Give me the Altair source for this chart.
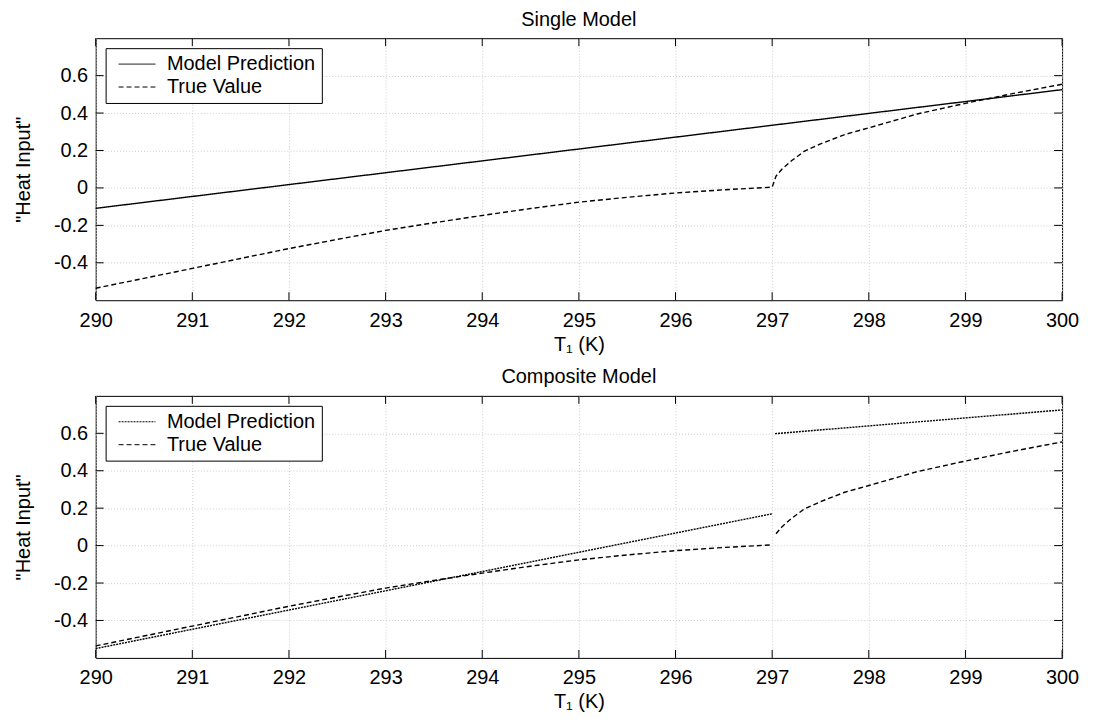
import altair as alt
import pandas as pd

FONT = "Liberation Sans"
W, H = 970, 263

x_ticks = [290, 291, 292, 293, 294, 295, 296, 297, 298, 299, 300]
y_ticks = [-0.4, -0.2, 0, 0.2, 0.4, 0.6]
series_names = ["Model Prediction", "True Value"]

# Single model prediction (straight line)
single_pred_T = [290, 300]
single_pred_v = [-0.109, 0.525]

# Composite model prediction (two pieces)
comp_pred1_T = [290, 297]
comp_pred1_v = [-0.550, 0.170]
comp_pred2_T = [297.03, 300]
comp_pred2_v = [0.598, 0.725]

# True value
true_before_T = [290, 290.5, 291, 291.5, 292, 292.5, 293, 293.5, 294, 294.5, 295, 295.5, 296, 296.5, 297]
true_before_v = [-0.536, -0.483, -0.430, -0.377, -0.324, -0.275, -0.227, -0.186, -0.147, -0.110, -0.076, -0.050, -0.027, -0.010, 0.004]
true_after_T = [297.04, 297.1, 297.2, 297.33, 297.5, 297.75, 298, 298.5, 299, 299.5, 300]
true_after_v = [0.063, 0.100, 0.145, 0.195, 0.235, 0.285, 0.321, 0.395, 0.452, 0.505, 0.554]


def rows(T, v, series, seg):
    return pd.DataFrame({"T": T, "v": v, "series": series, "seg": seg})


top_df = pd.concat([
    rows(single_pred_T, single_pred_v, "Model Prediction", "p"),
    rows(true_before_T + true_after_T, true_before_v + true_after_v, "True Value", "t"),
])
bot_df = pd.concat([
    rows(comp_pred1_T, comp_pred1_v, "Model Prediction", "p1"),
    rows(comp_pred2_T, comp_pred2_v, "Model Prediction", "p2"),
    rows(true_before_T, true_before_v, "True Value", "t1"),
    rows(true_after_T, true_after_v, "True Value", "t2"),
])

xt_df = pd.DataFrame({"T": x_ticks})
yt_df = pd.DataFrame({"v": y_ticks})


def X():
    return alt.X("T:Q", scale=alt.Scale(domain=[290, 300], nice=False, zero=False),
                 axis=alt.Axis(values=x_ticks, title="T₁ (K)", labelPadding=10, titlePadding=4,
                               format="d", labelFlush=False))


def Y():
    return alt.Y("v:Q", scale=alt.Scale(domain=[-0.6, 0.8], nice=False, zero=False),
                 axis=alt.Axis(values=y_ticks, title='"Heat Input"', labelPadding=8, titlePadding=20,
                               labelExpr="toString(datum.value)", labelFlush=False))


def panel(df, title, dash_range):
    lines = alt.Chart(df).mark_line(color="black", strokeWidth=1.4).encode(
        x=X(), y=Y(),
        strokeDash=alt.StrokeDash(
            "series:N",
            scale=alt.Scale(domain=series_names, range=dash_range),
            legend=alt.Legend(title=None, orient="top-left", offset=10, padding=6,
                              fillColor="white", strokeColor="black", cornerRadius=0,
                              labelFont=FONT, labelFontSize=20, labelColor="black",
                              symbolType="M-1.9474,0H1.9474", symbolSize=361,
                              symbolStrokeWidth=1, symbolStrokeColor="black",
                              symbolFillColor="transparent", symbolOffset=15.5,
                              labelOffset=20, rowPadding=3),
        ),
        detail="seg:N",
    )
    tick_b = alt.Chart(xt_df).mark_rule(color="black", strokeWidth=1).encode(
        x=X(), y=alt.value(H), y2=alt.value(H - 8))
    tick_t = alt.Chart(xt_df).mark_rule(color="black", strokeWidth=1).encode(
        x=X(), y=alt.value(0), y2=alt.value(8))
    tick_l = alt.Chart(yt_df).mark_rule(color="black", strokeWidth=1).encode(
        y=Y(), x=alt.value(0), x2=alt.value(8))
    tick_r = alt.Chart(yt_df).mark_rule(color="black", strokeWidth=1).encode(
        y=Y(), x=alt.value(W - 8), x2=alt.value(W))
    return alt.layer(lines, tick_b, tick_t, tick_l, tick_r).properties(
        width=W, height=H, title=alt.TitleParams(title, offset=8))


top = panel(top_df, "Single Model", [[1, 0], [5, 3]])
bot = panel(bot_df, "Composite Model", [[2, 1], [5, 3]])

chart = alt.vconcat(top, bot, spacing=12).resolve_scale(
    strokeDash="independent", x="independent", y="independent"
).resolve_legend(strokeDash="independent").properties(
    padding={"left": 5, "top": 0, "right": 5, "bottom": 0}
).configure_view(stroke="black", strokeWidth=1).configure_axis(
    grid=True, gridColor="#cccccc", gridDash=[1, 2], gridWidth=1,
    domain=False, ticks=False, tickSize=0,
    labelFont=FONT, labelFontSize=20, labelColor="black",
    titleFont=FONT, titleFontSize=20, titleColor="black", titleFontWeight="normal",
).configure_title(font=FONT, fontSize=20, fontWeight="normal", color="black", anchor="middle")

chart.save("out.html", embed_options={"renderer": "svg", "actions": False})
